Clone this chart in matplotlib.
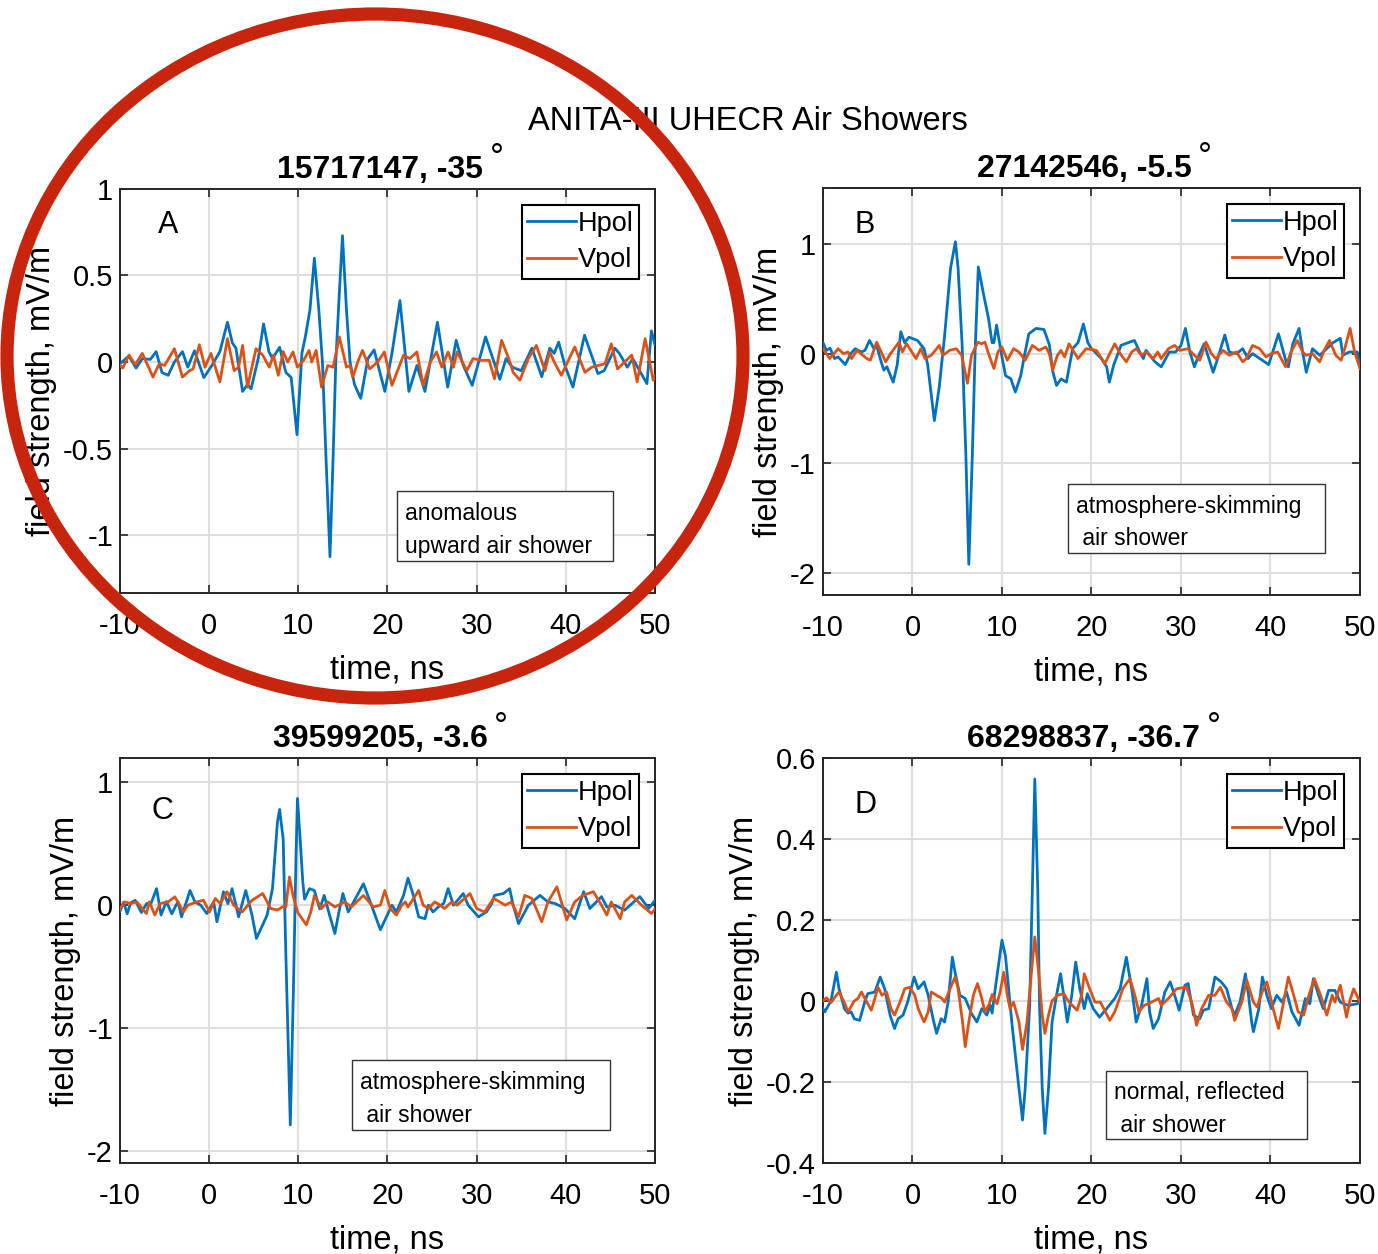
import numpy as np
import matplotlib.pyplot as plt
from matplotlib.patches import Ellipse, Rectangle
from matplotlib.ticker import FormatStrFormatter

plt.rcParams['font.family'] = ['Liberation Sans', 'DejaVu Sans']
plt.rcParams['axes.unicode_minus'] = False

# ---- event A : 15717147 ----
a_hpol_t = [-10, -9.0, -8.2, -7.5, -6.6, -5.95, -5.3, -4.6, -3.9, -3.0, -2.4, -1.65, -0.6, 0.3, 1.2, 2.05, 2.6, 3.0,
            3.75, 4.3, 4.7, 5.5, 6.1, 6.7, 7.1, 7.9, 8.6, 9.2, 9.85, 10.4, 10.8, 11.3, 11.8, 12.3, 12.7, 13.1, 13.55,
            13.9, 14.2, 14.6, 14.95, 15.4, 15.8, 16.3, 17.0, 17.8, 18.5, 19.7, 20.5, 21.4, 22.4, 23.3, 24.2, 25.6,
            26.75, 27.7, 28.5, 29.5, 31.0, 32.6, 33.3, 34.0, 35.0, 36.2, 37.3, 38.2, 38.7, 39.2, 39.9, 40.8, 42.1,
            43.6, 44.3, 45.5, 46.0, 46.9, 47.5, 49.1, 49.6, 50]
a_hpol_v = [-0.01, 0.035, -0.035, 0.02, 0.015, 0.06, -0.06, -0.077, 0.0, 0.06, -0.03, 0.065, -0.09, -0.02, 0.06, 0.23,
            0.11, 0.08, -0.17, -0.13, -0.155, 0.02, 0.22, 0.06, 0.02, 0.085, -0.06, -0.09, -0.42, 0.05, 0.15, 0.3, 0.6,
            0.3, 0.0, -0.55, -1.125, -0.55, 0.0, 0.4, 0.73, 0.3, 0.0, -0.13, -0.21, 0.02, 0.07, -0.17, 0.05, 0.355,
            -0.17, -0.02, -0.17, 0.23, -0.145, 0.125, -0.02, -0.135, 0.145, -0.1, 0.02, -0.03, -0.05, 0.08, -0.085,
            0.08, 0.05, 0.115, -0.02, -0.145, 0.155, -0.067, -0.05, 0.08, 0.05, -0.03, 0.02, -0.125, 0.18, 0.1]
a_vpol_t = [-10, -9.7, -9.0, -8.3, -7.5, -6.3, -5.6, -5.0, -3.9, -3.0, -2.2, -1.8, -1.1, -0.47, 0.2, 1.2, 2.05, 2.8,
            3.3, 3.75, 4.3, 5.25, 6.0, 6.75, 7.2, 7.75, 8.3, 8.8, 9.4, 9.9, 10.6, 11.2, 11.5, 12.0, 12.6, 13.3, 13.9,
            14.6, 15.4, 15.8, 16.1, 16.8, 17.2, 18.0, 18.9, 19.65, 20.5, 21.8, 22.5, 23.3, 24.0, 24.8, 25.5, 26.1,
            26.8, 27.4, 27.8, 28.9, 29.6, 30.5, 31.4, 32.0, 32.8, 33.6, 34.1, 34.85, 35.8, 36.7, 37.66, 38.2, 38.7,
            39.5, 41.0, 42.15, 42.9, 44.4, 45.1, 45.8, 47.4, 48.0, 48.9, 49.8, 50]
a_vpol_v = [-0.02, -0.035, 0.04, -0.015, 0.05, -0.087, -0.01, -0.02, 0.077, -0.087, -0.05, -0.04, 0.1, -0.03, 0.05,
            -0.115, 0.135, -0.05, -0.03, 0.096, -0.145, 0.077, 0.04, -0.03, 0.04, -0.077, 0.06, 0.0, 0.058, -0.03,
            0.01, 0.067, 0.0, 0.067, -0.145, -0.02, -0.03, 0.145, -0.03, -0.02, -0.087, 0.02, 0.067, -0.04, 0.0,
            0.058, -0.135, 0.04, 0.02, 0.058, -0.135, 0.0, 0.058, -0.03, 0.058, -0.03, 0.058, -0.05, 0.02, 0.01,
            0.01, -0.097, 0.125, 0.02, -0.06, -0.105, 0.02, 0.096, -0.05, 0.058, 0.0, -0.077, 0.087, -0.06, -0.03,
            -0.01, 0.105, -0.04, 0.04, -0.115, 0.135, -0.105, -0.08]

# ---- event B : 27142546 ----
b_hpol_t = [-10, -9.6, -9.2, -8.7, -8.3, -7.5, -6.9, -6.4, -5.7, -5.3, -4.8, -4.3, -4.0, -3.6, -3.2, -2.85, -2.15,
            -1.7, -1.3, -0.87, -0.4, 0.57, 1.3, 1.7, 2.45, 3.0, 3.6, 4.26, 4.8, 5.1, 5.55, 5.96, 6.3, 6.7, 7.0, 7.36,
            7.9, 8.5, 8.9, 9.1, 9.4, 9.9, 10.4, 11.0, 11.5, 12.1, 12.45, 13.0, 13.8, 14.7, 15.3, 15.7, 16.1, 16.6,
            17.2, 17.9, 18.5, 19.1, 19.6, 20.0, 20.4, 21.1, 21.7, 22.0, 22.5, 23.3, 24.1, 24.8, 25.4, 25.8, 26.1,
            27.1, 27.8, 28.7, 29.4, 30.0, 30.5, 31.0, 31.5, 32.0, 32.6, 33.6, 34.1, 34.9, 35.4, 36.2, 36.9, 37.5,
            38.0, 39.8, 40.9, 41.7, 42.0, 42.5, 43.2, 43.6, 44.0, 44.7, 45.5, 47.0, 47.8, 48.1, 48.8, 49.7, 50]
b_hpol_v = [0.1, 0.03, 0.05, -0.045, -0.03, -0.1, 0.0, 0.045, 0.015, 0.03, 0.12, 0.045, 0.075, -0.045, -0.15, -0.12,
            -0.26, -0.1, 0.2, 0.1, 0.15, 0.12, 0.045, -0.1, -0.61, -0.3, 0.17, 0.78, 1.02, 0.78, 0.08, -0.9, -1.92,
            -0.9, 0.015, 0.79, 0.56, 0.32, 0.1, 0.1, 0.26, 0.015, -0.2, -0.23, -0.35, -0.2, -0.045, 0.18, 0.23, 0.22,
            0.08, -0.17, -0.29, -0.23, -0.26, 0.045, 0.1, 0.27, 0.1, 0.045, 0.015, -0.045, -0.12, -0.26, -0.1, 0.075,
            0.1, 0.12, 0.015, -0.045, 0.03, -0.075, -0.12, 0.015, 0.015, 0.075, 0.23, 0.015, -0.12, -0.015, 0.09,
            -0.17, -0.045, 0.17, 0.015, 0.0, 0.045, -0.045, 0.0, -0.1, 0.18, -0.06, -0.12, 0.09, 0.23, 0.015, -0.17,
            0.045, -0.015, 0.1, 0.14, -0.015, 0.015, 0.015, -0.12]
b_vpol_t = [-10, -9.25, -8.3, -7.7, -7.2, -6.8, -6.2, -5.1, -4.7, -4.0, -3.4, -3.0, -2.45, -1.5, -1.13, -0.65, 0.4,
            0.94, 1.4, 2.1, 3.0, 3.4, 4.15, 4.9, 5.5, 6.15, 6.6, 7.3, 7.7, 8.1, 8.5, 9.1, 9.55, 10.0, 10.6, 11.3, 11.9,
            12.6, 13.4, 14.15, 14.9, 15.3, 15.66, 16.2, 16.6, 17.0, 17.5, 18.5, 19.4, 20.55, 21.5, 22.6, 23.2, 23.9,
            24.5, 25.0, 25.6, 26.1, 26.9, 27.4, 27.8, 28.6, 29.3, 29.85, 30.8, 31.5, 32.1, 32.8, 33.4, 33.9, 34.7,
            35.4, 36.2, 36.9, 37.3, 38.0, 38.8, 39.5, 40.1, 40.8, 41.7, 42.3, 43.0, 43.6, 44.0, 44.7, 45.5, 46.0,
            46.6, 47.3, 47.9, 48.25, 48.9, 49.4, 50]
b_vpol_v = [0.045, -0.045, 0.045, 0.0, 0.015, -0.045, 0.03, -0.045, -0.06, 0.105, 0.0, -0.075, 0.0, 0.105, 0.015,
            0.09, -0.045, 0.045, -0.045, -0.015, 0.075, -0.015, 0.03, 0.045, -0.015, -0.27, -0.015, 0.105, 0.09,
            0.105, 0.0, -0.135, 0.015, 0.06, -0.06, 0.045, 0.015, -0.06, 0.075, 0.03, 0.06, 0.0, -0.15, -0.015, 0.03,
            -0.03, 0.09, -0.045, 0.045, 0.03, -0.09, 0.09, 0.0, -0.075, 0.015, 0.045, -0.015, 0.015, -0.045, 0.015,
            -0.045, 0.045, 0.075, 0.03, 0.045, -0.015, -0.06, 0.105, 0.0, -0.045, 0.03, -0.015, 0.015, -0.075,
            -0.045, 0.075, 0.045, -0.03, 0.0, 0.015, -0.12, 0.015, 0.12, 0.015, -0.015, 0.0, -0.075, 0.03, 0.12,
            -0.015, -0.06, 0.03, 0.23, 0.015, -0.135]

# ---- event C : 39599205 ----
c_hpol_t = [-10, -9.6, -9.2, -8.8, -8.3, -7.6, -7.0, -6.6, -5.9, -5.4, -4.8, -4.2, -3.5, -3.1, -2.15, -1.6, -0.95,
            -0.26, 0.5, 0.87, 1.6, 2.1, 2.57, 3.3, 4.1, 4.8, 5.3, 6.0, 6.5, 7.1, 7.66, 7.9, 8.3, 8.6, 9.1, 9.45, 9.74,
            9.9, 10.2, 10.5, 10.7, 11.25, 11.8, 12.4, 12.9, 13.5, 14.1, 14.55, 15.0, 15.6, 16.3, 17.3, 18.2, 19.2,
            20.5, 21.0, 21.8, 22.3, 22.9, 23.5, 24.2, 24.6, 25.1, 25.7, 26.3, 26.8, 27.4, 28.5, 29.05, 30.2, 31.1,
            31.7, 32.0, 33.0, 33.7, 34.1, 34.7, 35.8, 37.1, 38.0, 38.8, 39.9, 41.0, 42.0, 42.7, 44.0, 44.6, 45.5,
            46.6, 48.3, 49.3, 50]
c_hpol_v = [-0.05, 0.025, -0.07, 0.02, 0.04, -0.06, 0.015, 0.0, 0.135, -0.08, 0.03, -0.07, 0.03, -0.095, 0.12, 0.027,
            0.0, -0.068, 0.027, -0.135, 0.11, 0.013, 0.135, -0.095, 0.12, -0.08, -0.27, -0.16, -0.08, 0.135, 0.68,
            0.78, 0.54, -0.4, -1.79, -0.68, 0.4, 0.87, 0.54, 0.19, 0.05, 0.135, 0.12, -0.03, 0.08, -0.08, -0.23,
            -0.055, 0.095, -0.055, 0.04, 0.175, 0.0, -0.2, 0.0, -0.055, 0.08, 0.22, 0.08, -0.095, -0.11, 0.0, -0.055,
            -0.014, 0.014, 0.135, 0.0, 0.095, 0.0, -0.095, -0.055, 0.014, 0.08, 0.095, 0.135, 0.0, -0.15, 0.0, 0.08,
            0.027, 0.014, -0.027, -0.11, 0.11, -0.027, 0.07, -0.014, 0.0, -0.04, 0.07, -0.027, 0.04]
c_vpol_t = [-10, -9.5, -8.8, -8.1, -7.05, -6.7, -6.1, -5.5, -4.6, -3.85, -3.3, -2.9, -2.4, -1.4, -0.64, 0.04, 0.68,
            1.25, 2.0, 2.75, 3.7, 4.8, 6.0, 6.9, 7.66, 8.2, 8.6, 9.0, 9.4, 9.9, 10.9, 11.4, 11.8, 12.6, 13.3, 14.1,
            15.2, 15.95, 17.3, 18.4, 19.2, 19.7, 20.3, 21.0, 21.6, 22.0, 22.3, 23.5, 24.0, 24.6, 25.3, 25.9, 26.4,
            27.2, 27.8, 29.25, 30.0, 30.9, 31.9, 32.6, 33.2, 33.9, 34.7, 35.4, 36.2, 37.3, 38.0, 39.0, 39.5, 40.1,
            41.0, 41.9, 43.1, 44.0, 44.6, 45.1, 46.1, 46.6, 47.4, 48.5, 49.6, 50]
c_vpol_v = [-0.03, 0.027, 0.014, 0.027, -0.068, 0.027, -0.08, 0.014, 0.027, 0.068, 0.0, -0.055, 0.0, 0.027, 0.04,
            -0.055, 0.055, 0.014, 0.11, 0.0, -0.055, 0.04, 0.095, -0.027, -0.04, -0.014, -0.014, 0.23, 0.08, -0.055,
            -0.16, -0.055, 0.08, -0.027, 0.027, -0.014, 0.027, -0.014, 0.08, -0.014, 0.0, 0.12, -0.027, -0.08, 0.0,
            0.027, -0.014, 0.12, 0.0, -0.027, 0.027, 0.0, -0.027, 0.027, 0.0, 0.095, -0.027, -0.055, 0.055, 0.027,
            0.0, 0.027, -0.095, 0.08, 0.055, -0.135, 0.027, 0.15, 0.027, -0.12, 0.027, 0.08, 0.11, 0.0, -0.08, 0.027,
            -0.11, 0.027, 0.08, 0.0, -0.068, -0.03]

# ---- event D : 68298837 ----
d_hpol_t = [-10, -9.8, -9.1, -8.5, -8.2, -7.6, -7.2, -6.85, -6.5, -5.9, -5.3, -5.0, -4.2, -3.6, -3.1, -2.5, -2.0,
            -1.6, -1.05, -0.5, 0.19, 0.64, 1.3, 1.76, 2.3, 2.7, 3.2, 3.6, 4.0, 4.46, 4.76, 5.3, 5.9, 6.6, 7.2, 7.75,
            8.3, 8.7, 8.9, 9.25, 10.0, 10.4, 11.1, 11.9, 12.3, 12.6, 13.1, 13.4, 13.67, 14.0, 14.2, 14.5, 14.8, 15.2,
            15.6, 16.1, 16.55, 16.9, 17.3, 17.8, 18.24, 18.7, 19.2, 19.55, 20.2, 20.9, 21.7, 22.6, 23.2, 23.9, 24.5,
            25.0, 25.6, 26.2, 26.5, 26.9, 27.5, 28.2, 28.8, 29.3, 29.8, 30.45, 30.8, 31.4, 32.1, 32.5, 33.1, 33.8,
            34.5, 35.1, 35.7, 36.0, 36.6, 37.2, 37.55, 37.9, 38.1, 38.7, 39.1, 39.6, 40.1, 40.7, 41.3, 41.8, 42.4,
            43.2, 43.9, 44.4, 44.8, 45.5, 45.9, 46.5, 47.2, 47.8, 48.7, 49.7, 50]
d_hpol_v = [-0.019, -0.027, 0.0, 0.071, 0.03, -0.019, -0.03, -0.027, -0.044, -0.048, 0.0, 0.018, 0.022, 0.059, 0.03,
            -0.035, -0.068, -0.044, -0.035, 0.0, 0.059, 0.03, 0.047, 0.014, -0.044, -0.08, -0.044, -0.052, 0.0, 0.108,
            0.071, 0.014, 0.006, -0.031, -0.052, -0.019, -0.035, -0.011, -0.03, 0.03, 0.15, 0.11, -0.052, -0.216,
            -0.294, -0.216, -0.01, 0.277, 0.548, 0.277, -0.01, -0.216, -0.327, -0.216, -0.052, 0.014, 0.067, 0.014,
            -0.052, 0.014, 0.096, 0.03, -0.019, 0.018, -0.019, -0.04, -0.019, 0.006, 0.03, 0.108, 0.03, -0.052,
            -0.011, 0.055, -0.027, -0.068, -0.044, 0.022, 0.047, 0.014, -0.023, 0.039, 0.043, -0.035, -0.044, -0.023,
            -0.019, 0.059, 0.047, 0.03, -0.019, -0.035, -0.003, 0.067, 0.014, -0.052, -0.076, -0.019, 0.059, 0.014,
            -0.019, 0.014, -0.003, 0.022, -0.027, -0.06, 0.006, -0.007, 0.055, 0.006, -0.019, 0.026, 0.026, -0.003,
            -0.011, -0.007, -0.003]
d_vpol_t = [-10, -9.6, -9.1, -8.5, -8.2, -7.6, -7.2, -6.5, -6.1, -5.7, -4.6, -4.2, -3.86, -3.4, -2.9, -2.4, -2.0,
            -1.4, -0.86, -0.3, 0.26, 0.64, 1.3, 1.76, 2.1, 2.7, 3.3, 3.6, 4.2, 4.76, 5.1, 5.6, 5.9, 6.3, 6.8, 7.27,
            7.75, 8.1, 8.6, 8.9, 9.45, 9.8, 10.2, 10.6, 10.9, 11.3, 11.9, 12.3, 12.8, 13.3, 13.67, 14.1, 14.5, 14.8,
            15.2, 15.6, 16.2, 16.9, 17.5, 18.4, 18.9, 19.2, 19.8, 20.4, 21.0, 22.05, 22.6, 23.0, 23.5, 24.3, 24.85,
            25.3, 25.9, 26.7, 27.5, 27.8, 28.6, 29.5, 30.6, 31.2, 31.75, 32.3, 33.1, 33.8, 34.4, 35.1, 35.7, 36.0,
            36.8, 37.35, 38.1, 38.5, 39.2, 39.6, 40.3, 40.9, 41.4, 42.0, 42.6, 43.1, 43.7, 44.3, 44.9, 45.6, 46.3,
            46.9, 47.2, 47.8, 48.5, 48.9, 49.3, 50]
d_vpol_v = [0.0, 0.008, -0.004, 0.014, 0.022, -0.004, -0.027, 0.0, 0.006, 0.022, -0.023, 0.006, 0.034, 0.014, 0.022,
            -0.019, -0.035, -0.003, 0.03, 0.034, 0.014, -0.019, -0.052, -0.027, 0.022, 0.014, 0.006, -0.003, 0.03,
            0.059, 0.03, -0.052, -0.113, -0.052, 0.014, 0.043, 0.006, -0.027, -0.007, 0.016, -0.007, 0.022, 0.071,
            0.014, -0.019, -0.003, -0.052, -0.12, -0.052, 0.071, 0.158, 0.071, -0.035, -0.08, -0.035, 0.0, 0.014,
            0.018, -0.003, -0.023, 0.014, 0.067, 0.03, -0.003, -0.003, -0.048, -0.027, -0.003, 0.03, 0.055, 0.014,
            -0.027, -0.011, -0.003, 0.006, -0.011, 0.006, 0.03, 0.034, -0.003, -0.06, -0.019, 0.014, 0.014, 0.034,
            -0.003, -0.019, -0.048, -0.003, 0.051, -0.003, -0.015, 0.03, 0.047, -0.019, -0.068, -0.011, 0.059, 0.014,
            -0.027, -0.035, 0.014, 0.055, 0.014, -0.035, 0.014, -0.003, 0.039, -0.04, 0.003, 0.03, -0.003]

titles = ['15717147, -35', '27142546, -5.5', '39599205, -3.6', '68298837, -36.7']
letters = ['A', 'B', 'C', 'D']
notes = ['anomalous\nupward air shower', 'atmosphere-skimming\n air shower',
         'atmosphere-skimming\n air shower', 'normal, reflected\n air shower']
x_ticks = [-10, 0, 10, 20, 30, 40, 50]
y_ticks = [[-1, -0.5, 0, 0.5, 1], [-2, -1, 0, 1], [-2, -1, 0, 1], [-0.4, -0.2, 0, 0.2, 0.4, 0.6]]

hpol_t = [a_hpol_t, b_hpol_t, c_hpol_t, d_hpol_t]
hpol_v = [a_hpol_v, b_hpol_v, c_hpol_v, d_hpol_v]
vpol_t = [a_vpol_t, b_vpol_t, c_vpol_t, d_vpol_t]
vpol_v = [a_vpol_v, b_vpol_v, c_vpol_v, d_vpol_v]

# layout / style
positions = [[0.0871, 0.5271, 0.3882, 0.3222], [0.5972, 0.5255, 0.3897, 0.3246],
             [0.0871, 0.0726, 0.3882, 0.3230], [0.5972, 0.0726, 0.3897, 0.3230]]
y_limits = [(-1.335, 1.0), (-2.2, 1.51), (-2.1, 1.2), (-0.4, 0.6)]
letter_pos = [(0.09, 0.91), (0.078, 0.91), (0.08, 0.87), (0.08, 0.884)]
# note boxes: x0, x1, y0, y1 in axes fraction
note_box = [(0.5178, 0.9215, 0.0792, 0.2525), (0.4562, 0.9348, 0.1032, 0.2727),
            (0.4336, 0.9159, 0.0815, 0.2543), (0.5270, 0.9013, 0.0593, 0.2272)]

blue = '#0072BD'
orange = '#D95319'

fig = plt.figure(figsize=(13.78, 12.54), dpi=100)

for i in range(4):
    ax = fig.add_axes(positions[i])
    ax.plot(hpol_t[i], hpol_v[i], color=blue, lw=2.0, label='Hpol', zorder=3)
    ax.plot(vpol_t[i], vpol_v[i], color=orange, lw=2.0, label='Vpol', zorder=4)
    ax.set_xlim(-10, 50)
    ax.set_ylim(y_limits[i])
    ax.set_xticks(x_ticks)
    ax.set_yticks(y_ticks[i])
    ax.yaxis.set_major_formatter(FormatStrFormatter('%g'))
    ax.grid(True, color='#dedede', lw=1.5, zorder=0)
    ax.set_axisbelow(True)
    ax.tick_params(direction='in', length=6, width=1.2, top=True, right=True, labelsize=21,
                   colors='#262626', labelcolor='black')
    ax.tick_params(axis='x', pad=14)
    ax.tick_params(axis='y', pad=5)
    for s in ax.spines.values():
        s.set_linewidth(1.4)
        s.set_color('#262626')
    ax.set_xlabel('time, ns', fontsize=23.5, labelpad=10)
    ax.set_ylabel('field strength, mV/m', fontsize=23.5, labelpad=4.5)
    ttl = ax.set_title(titles[i], fontsize=23, fontweight='bold', pad=8, x=0.486)
    ax.annotate('°', xy=(1, 1), xycoords=ttl, xytext=(10, 9), textcoords='offset points',
                fontsize=25, ha='center', va='top')
    leg = ax.legend(loc='upper right', fontsize=19.5, fancybox=False, framealpha=1, edgecolor='black',
                    handlelength=1.8, handletextpad=0.05, borderpad=0.2, labelspacing=0.4, borderaxespad=0.6)
    leg.get_frame().set_linewidth(1.5)
    ax.text(letter_pos[i][0], letter_pos[i][1], letters[i], transform=ax.transAxes, fontsize=22,
            ha='center', va='center')
    x0, x1, y0, y1 = note_box[i]
    ax.add_patch(Rectangle((x0, y0), x1 - x0, y1 - y0, transform=ax.transAxes, fc='white',
                           ec='#333333', lw=1.0, zorder=6))
    ax.text(x0 + 8 / 535, (y0 + y1) / 2 - 4 / 405, notes[i], transform=ax.transAxes, fontsize=16.5,
            ha='left', va='center', linespacing=1.55, zorder=7)

fig.text(748 / 1378, 1 - 122 / 1254, 'ANITA-III UHECR Air Showers', ha='center', va='center', fontsize=23.5)

ring = Ellipse((375 / 1378, 1 - 356 / 1254), width=2 * 368 / 1378, height=2 * 342 / 1254,
               transform=fig.transFigure, fill=False, ec='#C8250F', lw=9.5, zorder=100)
fig.add_artist(ring)

fig.savefig('out.png', dpi=100)
